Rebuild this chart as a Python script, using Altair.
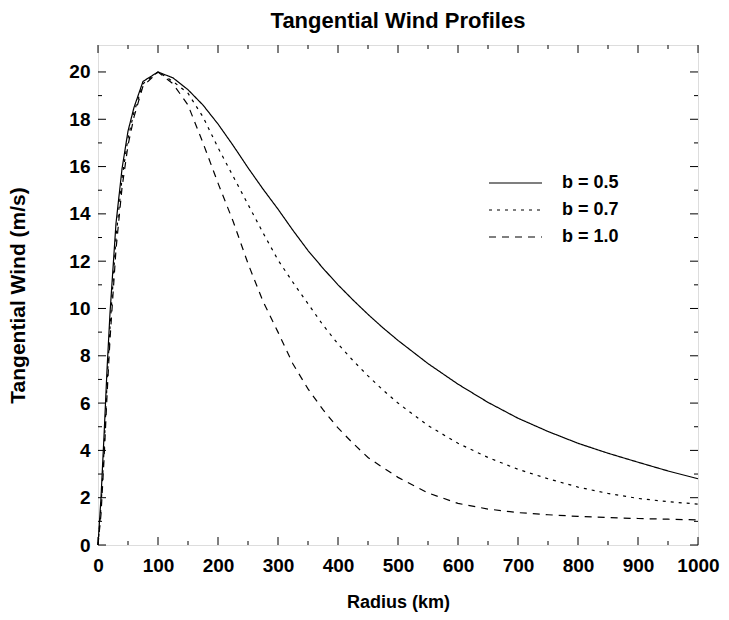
import altair as alt
import pandas as pd

# ---- data ----
radius = [0, 5, 10, 15, 20, 30, 40, 50, 60, 75, 100, 125, 150, 175, 200, 225, 250, 275,
          300, 325, 350, 375, 400, 425, 450, 475, 500, 550, 600, 650, 700, 750, 800,
          850, 900, 950, 1000]
wind_b05 = [0, 2.0, 4.6, 7.4, 9.8, 13.6, 15.9, 17.5, 18.5, 19.6, 20.0, 19.75, 19.25, 18.6,
            17.8, 16.9, 15.95, 15.05, 14.2, 13.3, 12.45, 11.7, 11.0, 10.36, 9.75, 9.18,
            8.65, 7.67, 6.8, 6.03, 5.36, 4.8, 4.3, 3.88, 3.5, 3.13, 2.8]
wind_b07 = [0, 1.6, 4.0, 6.8, 9.2, 13.0, 15.5, 17.2, 18.3, 19.5, 20.0, 19.6, 19.1, 18.1,
            16.8, 15.6, 14.4, 13.2, 12.05, 11.1, 10.2, 9.3, 8.5, 7.8, 7.15, 6.55,
            6.0, 5.05, 4.3, 3.7, 3.2, 2.8, 2.45, 2.18, 1.97, 1.83, 1.73]
wind_b10 = [0, 1.3, 3.6, 6.3, 8.7, 12.5, 15.1, 16.9, 18.1, 19.4, 20.0, 19.5, 18.6, 17.0,
            15.3, 13.7, 11.9, 10.3, 9.0, 7.65, 6.6, 5.72, 4.95, 4.3, 3.7, 3.27,
            2.86, 2.2, 1.76, 1.52, 1.37, 1.28, 1.21, 1.16, 1.12, 1.09, 1.06]
series_names = ["b = 0.5", "b = 0.7", "b = 1.0"]

x_major = [0, 100, 200, 300, 400, 500, 600, 700, 800, 900, 1000]
x_minor = [50, 150, 250, 350, 450, 550, 650, 750, 850, 950]
y_major = [0, 2, 4, 6, 8, 10, 12, 14, 16, 18, 20]
y_minor = [1, 3, 5, 7, 9, 11, 13, 15, 17, 19]

FONT = "Liberation Sans, Arial, sans-serif"

rows = []
for name, vals in zip(series_names, [wind_b05, wind_b07, wind_b10]):
    for r, v in zip(radius, vals):
        rows.append({"r": r, "V": v, "series": name})
df = pd.DataFrame(rows)

W, H = 600, 500
xscale = alt.Scale(domain=[0, 1000], nice=False, zero=False)
yscale = alt.Scale(domain=[0, 21.14], nice=False, zero=False)

xaxis = alt.Axis(values=x_major, format="d", title="Radius (km)", ticks=False,
                 domain=False, grid=False, labelFont=FONT, labelFontSize=19,
                 labelFontWeight="bold", labelColor="black", labelPadding=11,
                 labelFlush=False, labelOverlap=False, titleFont=FONT, titleFontSize=18,
                 titleFontWeight="bold", titleColor="black", titlePadding=18)
yaxis = alt.Axis(values=y_major, format="d", title="Tangential Wind (m/s)", ticks=False,
                 domain=False, grid=False, labelFont=FONT, labelFontSize=19,
                 labelFontWeight="bold", labelColor="black", labelPadding=8,
                 labelFlush=False, labelOverlap=False, titleFont=FONT, titleFontSize=21,
                 titleFontWeight="bold", titleColor="black", titlePadding=40)

lines = alt.Chart(df).mark_line(color="black", strokeWidth=1.2).encode(
    x=alt.X("r:Q", scale=xscale, axis=xaxis),
    y=alt.Y("V:Q", scale=yscale, axis=yaxis),
    strokeDash=alt.StrokeDash(
        "series:N",
        scale=alt.Scale(domain=series_names, range=[[1, 0], [3, 5], [7, 6]]),
        legend=alt.Legend(title=None, orient="none", legendX=390, legendY=129,
                          symbolType="stroke", symbolSize=2809, symbolStrokeWidth=1.2,
                          symbolStrokeColor="black", clipHeight=18, rowPadding=9,
                          labelFont=FONT, labelFontSize=18, labelFontWeight="bold",
                          labelColor="black", labelOffset=19, padding=0),
    ),
    detail="series:N",
)


def xticks(vals, length, top):
    d = pd.DataFrame({"r": vals})
    if top:
        y1, y2 = 0, length
    else:
        y1, y2 = H, H - length
    return alt.Chart(d).mark_rule(color="black", strokeWidth=1).encode(
        x=alt.X("r:Q", scale=xscale, axis=xaxis),
        y=alt.value(y1), y2=alt.value(y2))


def yticks(vals, length, right):
    d = pd.DataFrame({"V": vals})
    if right:
        x1, x2 = W, W - length
    else:
        x1, x2 = 0, length
    return alt.Chart(d).mark_rule(color="black", strokeWidth=1).encode(
        y=alt.Y("V:Q", scale=yscale, axis=yaxis),
        x=alt.value(x1), x2=alt.value(x2))


ticks = [
    xticks(x_major, 8, False), xticks(x_minor, 4, False),
    xticks(x_major, 8, True), xticks(x_minor, 4, True),
    yticks(y_major, 8, False), yticks(y_minor, 4, False),
    yticks(y_major, 8, True), yticks(y_minor, 4, True),
]

chart = alt.layer(lines, *ticks).properties(
    width=W, height=H,
    title=alt.TitleParams("Tangential Wind Profiles", font=FONT, fontSize=22,
                          fontWeight="bold", color="black", anchor="middle", offset=12),
    autosize=alt.AutoSizeParams(type="none"),
    padding={"left": 98, "top": 45, "right": 31, "bottom": 75},
).configure_view(stroke="black", strokeWidth=1.6).configure(background="white")

chart.save("out.html", embed_options={"renderer": "svg", "actions": False})
